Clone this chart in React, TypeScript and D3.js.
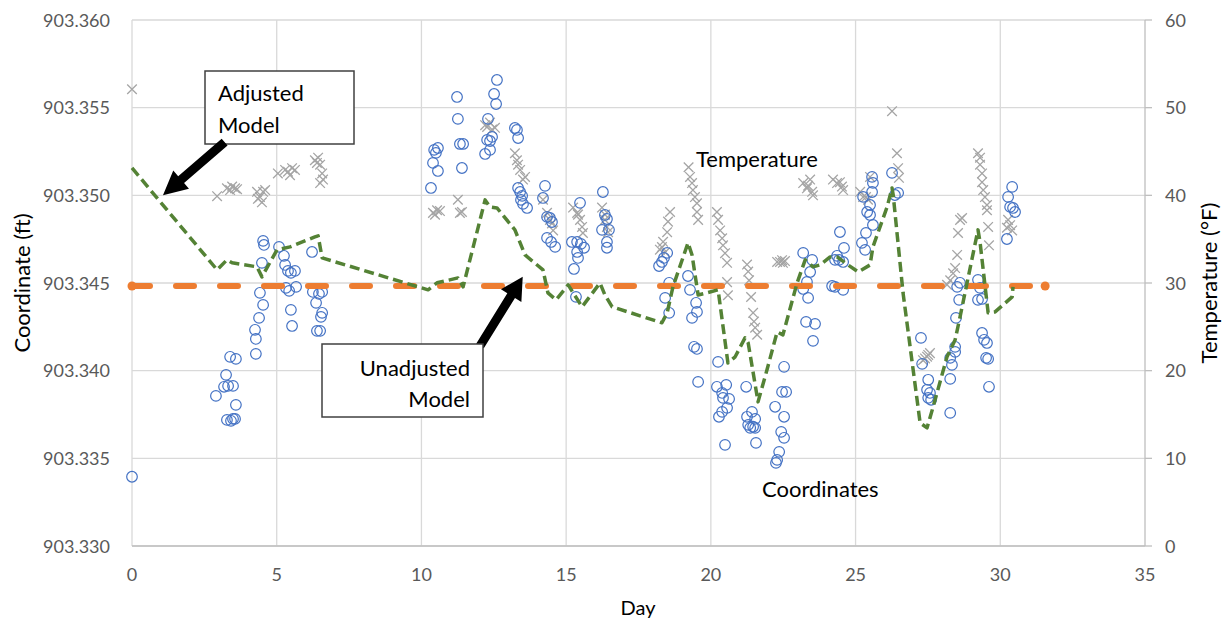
import * as d3 from "d3";

// Coordinates (ft), blue open circles: [day, ft]
const coordinatePoints: [number, number][] = [
  [0, 903.33395],
  [2.9, 903.33856], [3.25, 903.33976], [3.18, 903.33908], [3.32, 903.33913], [3.49, 903.33913], [3.39, 903.34079],
  [3.59, 903.34067], [3.59, 903.33805], [3.28, 903.33719], [3.49, 903.33725], [3.42, 903.33714], [3.56, 903.33725],
  [4.28, 903.34096], [4.28, 903.34181], [4.25, 903.34233], [4.39, 903.34301], [4.53, 903.34375], [4.42, 903.34444],
  [4.49, 903.34615], [4.56, 903.34717], [4.53, 903.3474],
  [5.08, 903.34706], [5.25, 903.34655], [5.29, 903.34603], [5.39, 903.34569], [5.49, 903.34558], [5.63, 903.34569],
  [5.67, 903.34478], [5.43, 903.34455], [5.49, 903.34347], [5.53, 903.34255], [5.32, 903.34472],
  [6.22, 903.34677], [6.25, 903.34449], [6.46, 903.34438], [6.57, 903.34449], [6.36, 903.34387], [6.57, 903.3433],
  [6.53, 903.34307], [6.39, 903.34227], [6.5, 903.34227],
  [10.33, 903.35042], [10.44, 903.35259], [10.57, 903.3527], [10.5, 903.35242], [10.4, 903.35185], [10.57, 903.35139],
  [11.23, 903.35561], [11.26, 903.35436], [11.33, 903.35293], [11.44, 903.35293], [11.4, 903.35156],
  [12.3, 903.35436], [12.27, 903.35316], [12.37, 903.3531], [12.44, 903.35333], [12.2, 903.35236], [12.37, 903.35259],
  [12.61, 903.35658], [12.51, 903.35578], [12.58, 903.35521],
  [13.23, 903.35384], [13.3, 903.35373], [13.34, 903.35327], [13.34, 903.35042], [13.41, 903.35019], [13.48, 903.34997],
  [13.44, 903.34974], [13.51, 903.34951], [13.65, 903.34928],
  [14.27, 903.35054], [14.2, 903.34985], [14.34, 903.34877], [14.44, 903.34871], [14.51, 903.34848], [14.34, 903.34757],
  [14.48, 903.34734], [14.62, 903.34706],
  [15.48, 903.34957], [15.2, 903.34734], [15.38, 903.34734], [15.51, 903.34723], [15.62, 903.34701], [15.38, 903.34677],
  [15.41, 903.34643], [15.27, 903.3458], [15.34, 903.34421],
  [16.27, 903.35019], [16.34, 903.34888], [16.41, 903.34865], [16.24, 903.34803], [16.48, 903.34803], [16.41, 903.34734],
  [16.41, 903.34701],
  [18.21, 903.34597], [18.31, 903.3462], [18.38, 903.34643], [18.49, 903.34672], [18.42, 903.34415], [18.56, 903.3433],
  [18.56, 903.34501],
  [19.21, 903.3454], [19.28, 903.34461], [19.49, 903.34387], [19.52, 903.34335], [19.35, 903.34301], [19.42, 903.34136],
  [19.52, 903.34124], [19.56, 903.33936],
  [20.25, 903.3405], [20.21, 903.33908], [20.39, 903.33873], [20.53, 903.33919], [20.42, 903.33845], [20.63, 903.33839],
  [20.56, 903.33788], [20.39, 903.33765], [20.28, 903.33737], [20.49, 903.33577],
  [21.22, 903.33908], [21.42, 903.33765], [21.25, 903.33737], [21.53, 903.33725], [21.29, 903.33691], [21.46, 903.3368],
  [21.36, 903.33674], [21.53, 903.33674], [21.56, 903.33588],
  [22.22, 903.33794], [22.53, 903.33737], [22.43, 903.33651], [22.53, 903.33617], [22.36, 903.33537], [22.29, 903.33491],
  [22.25, 903.33474], [22.53, 903.34022], [22.46, 903.33879], [22.6, 903.33879],
  [23.19, 903.34672], [23.5, 903.34632], [23.43, 903.34563], [23.32, 903.34506], [23.19, 903.34466], [23.36, 903.34415],
  [23.29, 903.34278], [23.6, 903.34267], [23.53, 903.3417],
  [24.46, 903.34791], [24.6, 903.347], [24.36, 903.34655], [24.29, 903.34632], [24.43, 903.34632], [24.57, 903.3462],
  [24.19, 903.34483], [24.29, 903.34478], [24.57, 903.34461],
  [25.22, 903.34729], [25.33, 903.34689], [25.36, 903.34786], [25.4, 903.34905], [25.5, 903.34888], [25.6, 903.34831],
  [25.5, 903.34945], [25.57, 903.35019], [25.6, 903.35071], [25.57, 903.35105], [25.26, 903.34991],
  [26.26, 903.35128], [26.36, 903.35002], [26.47, 903.35014],
  [27.26, 903.34187], [27.3, 903.34039], [27.51, 903.33948], [27.47, 903.33891], [27.57, 903.33873], [27.51, 903.33845],
  [27.61, 903.33834],
  [28.27, 903.33759], [28.27, 903.33953], [28.33, 903.34033], [28.27, 903.34073], [28.44, 903.34107], [28.44, 903.34136],
  [28.47, 903.34301], [28.58, 903.34404], [28.61, 903.34501], [28.51, 903.34478],
  [29.23, 903.34518], [29.3, 903.34472], [29.23, 903.34404], [29.37, 903.34409], [29.37, 903.34215], [29.44, 903.34176],
  [29.54, 903.34158], [29.51, 903.34073], [29.58, 903.34067], [29.61, 903.33908],
  [30.41, 903.35048], [30.27, 903.34991], [30.34, 903.34934], [30.44, 903.34928], [30.51, 903.34905], [30.23, 903.34751],
];

// Temperature (°F), grey crosses: [day, °F]
const temperaturePoints: [number, number][] = [
  [0, 52.1],
  [2.94, 39.9], [3.28, 40.8], [3.46, 41.0], [3.56, 40.8], [3.63, 40.7], [3.39, 40.6],
  [4.32, 40.4], [4.42, 39.8], [4.49, 39.2], [4.53, 40.4], [4.6, 40.6], [4.35, 39.6],
  [5.04, 42.5], [5.29, 42.9], [5.39, 42.7], [5.53, 43.1], [5.63, 42.9], [5.46, 42.3],
  [6.32, 44.0], [6.39, 43.7], [6.43, 44.3], [6.57, 42.5], [6.6, 41.8], [6.5, 41.4], [6.5, 43.5],
  [10.4, 38.0], [10.54, 38.3], [10.47, 37.8], [10.64, 38.2], [11.26, 39.5], [11.33, 38.0], [11.4, 38.1],
  [12.27, 47.8], [12.44, 47.5], [12.54, 47.7], [12.37, 48.3], [12.2, 48.0],
  [13.23, 44.8], [13.3, 44.0], [13.34, 43.5], [13.51, 41.8], [13.58, 42.1], [13.41, 42.9],
  [14.2, 39.5], [14.34, 38.0], [14.44, 37.2], [14.55, 36.0], [14.51, 36.8],
  [15.24, 38.6], [15.38, 38.0], [15.48, 37.2], [15.55, 36.4], [15.58, 35.7], [15.41, 37.8],
  [16.24, 38.6], [16.34, 37.2], [16.41, 36.4], [16.45, 35.8], [16.34, 37.8],
  [18.24, 33.8], [18.31, 34.1], [18.35, 34.7], [18.49, 35.8], [18.52, 37.0], [18.59, 38.1], [18.42, 33.5],
  [19.23, 43.2], [19.28, 42.1], [19.35, 41.4], [19.38, 40.6], [19.45, 39.8], [19.52, 39.1], [19.52, 38.1], [19.56, 37.2],
  [20.21, 38.1], [20.25, 37.2], [20.32, 36.0], [20.39, 35.1], [20.42, 34.3], [20.49, 33.4], [20.56, 32.3], [20.56, 30.1],
  [20.59, 28.6],
  [21.25, 32.1], [21.29, 31.3], [21.32, 30.3], [21.39, 28.4], [21.46, 26.6], [21.49, 25.6], [21.53, 24.9], [21.6, 24.1],
  [22.29, 32.4], [22.39, 32.4], [22.49, 32.3], [22.46, 32.6], [22.56, 32.5],
  [23.19, 41.4], [23.32, 40.8], [23.43, 41.8], [23.5, 40.4], [23.53, 40.0], [23.36, 41.1],
  [24.22, 41.8], [24.36, 41.4], [24.46, 41.5], [24.53, 41.0], [24.57, 40.6],
  [25.16, 40.4], [25.26, 39.8], [25.36, 39.8], [25.43, 39.5], [25.5, 42.1],
  [26.26, 49.6], [26.43, 44.8], [26.47, 43.1], [26.5, 42.0],
  [27.33, 21.2], [27.47, 21.6], [27.51, 21.8], [27.57, 22.0], [27.4, 21.4],
  [28.27, 30.3], [28.37, 31.1], [28.44, 31.7], [28.51, 33.2], [28.54, 35.7], [28.61, 37.2], [28.68, 37.4], [28.16, 29.8],
  [29.23, 44.8], [29.3, 44.3], [29.3, 43.5], [29.37, 42.5], [29.37, 41.5], [29.41, 40.6], [29.47, 39.8], [29.54, 38.9],
  [29.54, 38.3], [29.58, 36.4], [29.61, 34.3],
  [30.23, 36.3], [30.34, 36.6], [30.41, 36.0], [30.27, 37.2],
];

// Adjusted model (ft), green dashed line
const adjustedModel: [number, number][] = [
  [0, 903.35156], [2.94, 903.34575], [3.28, 903.34632], [3.46, 903.34615], [4.32, 903.34592], [4.49, 903.34535],
  [5.01, 903.34689], [5.46, 903.34706], [6.32, 903.34763], [6.43, 903.34769], [6.57, 903.34643], [10.23, 903.34461],
  [10.54, 903.34501], [11.26, 903.34529], [11.44, 903.34478], [12.2, 903.34974], [12.37, 903.34934], [12.61, 903.34928],
  [13.23, 903.34803], [13.58, 903.3466], [14.2, 903.34575], [14.37, 903.34444], [14.65, 903.34404], [15.07, 903.34489],
  [15.55, 903.34364], [16.17, 903.345], [16.34, 903.34432], [16.59, 903.34364], [18.31, 903.34273], [18.49, 903.3433],
  [18.69, 903.34478], [19.21, 903.34729], [19.35, 903.3466], [19.56, 903.34432], [19.87, 903.34444], [20.25, 903.34461],
  [20.59, 903.34044], [20.84, 903.34079], [21.18, 903.34187], [21.29, 903.34158], [21.63, 903.33822], [21.94, 903.34005],
  [22.29, 903.34221], [22.49, 903.34204], [22.98, 903.34501], [23.26, 903.34632], [23.53, 903.34592], [23.77, 903.34603],
  [24.12, 903.34649], [24.36, 903.34649], [24.74, 903.34603], [25.09, 903.34563], [25.5, 903.34603], [25.6, 903.34706],
  [26.09, 903.34934], [26.26, 903.35042], [26.3, 903.35002], [26.64, 903.34444], [27.23, 903.33702], [27.47, 903.33674],
  [27.68, 903.33794], [28.16, 903.34079], [28.44, 903.34176], [28.61, 903.34307], [29.23, 903.34803], [29.3, 903.34734],
  [29.58, 903.3433], [29.82, 903.34335], [30.41, 903.34421], [30.44, 903.34478],
];

// Unadjusted model (ft), orange dashed line
const unadjustedModel: [number, number][] = [
  [0, 903.34483],
  [31.55, 903.34483],
];

const dayTicks = [0, 5, 10, 15, 20, 25, 30, 35];
const coordTicks = ["903.330", "903.335", "903.340", "903.345", "903.350", "903.355", "903.360"];
const tempTicks = [0, 10, 20, 30, 40, 50, 60];

const W = 1231;
const H = 622;
const left = 132;
const right = 1145;
const top = 20;
const bottom = 546;
const font = "Lato, 'Open Sans', sans-serif";

function arrow(x1: number, y1: number, x2: number, y2: number, shaft: number, headW: number, headL: number) {
  const len = Math.hypot(x2 - x1, y2 - y1);
  const ux = (x2 - x1) / len;
  const uy = (y2 - y1) / len;
  const nx = -uy;
  const ny = ux;
  const bx = x2 - ux * headL;
  const by = y2 - uy * headL;
  const p = [
    [x1 + (nx * shaft) / 2, y1 + (ny * shaft) / 2],
    [bx + (nx * shaft) / 2, by + (ny * shaft) / 2],
    [bx + (nx * headW) / 2, by + (ny * headW) / 2],
    [x2, y2],
    [bx - (nx * headW) / 2, by - (ny * headW) / 2],
    [bx - (nx * shaft) / 2, by - (ny * shaft) / 2],
    [x1 - (nx * shaft) / 2, y1 - (ny * shaft) / 2],
  ];
  return p.map((d) => d.join(",")).join(" ");
}

export default function App() {
  const x = d3.scaleLinear().domain([0, 35]).range([left, right]);
  const yL = d3.scaleLinear().domain([903.33, 903.36]).range([bottom, top]);
  const yR = d3.scaleLinear().domain([0, 60]).range([bottom, top]);

  const line = d3
    .line<[number, number]>()
    .x((d) => x(d[0]))
    .y((d) => yL(d[1]));

  const grid = "#d9d9d9";
  const tickColor = "#595959";

  // annotation arrow tips, in data space
  const adjTip: [number, number] = [1.07, 903.35];
  const adjBase: [number, number] = [3.2, 903.35304];
  const unTip: [number, number] = [13.5, 903.34535];

  return (
    <svg width={W} height={H} style={{ position: "absolute", left: 0, top: 0, background: "#fff" }} fontFamily={font}>
      {/* grid */}
      {coordTicks.map((t) => (
        <line key={"h" + t} x1={left} x2={right} y1={yL(+t)} y2={yL(+t)} stroke={grid} strokeWidth={1.3} />
      ))}
      {dayTicks.slice(0, -1).map((t) => (
        <line key={"v" + t} x1={x(t)} x2={x(t)} y1={top} y2={bottom} stroke={grid} strokeWidth={1.3} />
      ))}
      <line x1={left} x2={right} y1={bottom} y2={bottom} stroke="#bfbfbf" strokeWidth={1.3} />
      <line x1={right} x2={right} y1={top} y2={bottom} stroke="#bfbfbf" strokeWidth={1.3} />
      {tempTicks.map((t) => (
        <line key={"rt" + t} x1={right} x2={right + 7} y1={yR(t)} y2={yR(t)} stroke="#bfbfbf" strokeWidth={1.3} />
      ))}

      {/* tick labels */}
      {coordTicks.map((t) => (
        <text key={"lt" + t} x={110} y={yL(+t) + 6.5} textAnchor="end" fontSize={18} fill={tickColor}>
          {t}
        </text>
      ))}
      {tempTicks.map((t) => (
        <text key={"rl" + t} x={1165} y={yR(t) + 6.5} fontSize={18} fill={tickColor}>
          {t}
        </text>
      ))}
      {dayTicks.map((t) => (
        <text key={"xl" + t} x={x(t)} y={581} textAnchor="middle" fontSize={18} fill={tickColor}>
          {t}
        </text>
      ))}

      {/* axis titles */}
      <text x={638} y={615} textAnchor="middle" fontSize={20} fill="#000">
        Day
      </text>
      <text transform={`translate(30,${(top + bottom) / 2}) rotate(-90)`} textAnchor="middle" fontSize={22} fill="#000">
        Coordinate (ft)
      </text>
      <text transform={`translate(1217,${(top + bottom) / 2}) rotate(-90)`} textAnchor="middle" fontSize={22} fill="#000">
        Temperature (°F)
      </text>

      {/* temperature crosses */}
      {temperaturePoints.map((d, i) => {
        const cx = x(d[0]);
        const cy = yR(d[1]);
        const s = 4.8;
        return (
          <path
            key={"t" + i}
            d={`M${cx - s},${cy - s}L${cx + s},${cy + s}M${cx - s},${cy + s}L${cx + s},${cy - s}`}
            stroke="#a5a5a5"
            strokeWidth={1.3}
            fill="none"
          />
        );
      })}

      {/* coordinate circles */}
      {coordinatePoints.map((d, i) => (
        <circle key={"c" + i} cx={x(d[0])} cy={yL(d[1])} r={5.3} fill="none" stroke="#4472c4" strokeWidth={1.2} />
      ))}

      {/* unadjusted model */}
      <path
        d={line(unadjustedModel) || ""}
        fill="none"
        stroke="#ed7d31"
        strokeWidth={6}
        strokeDasharray="18 26"
        strokeLinecap="round"
      />
      {unadjustedModel.map((d, i) => (
        <circle key={"u" + i} cx={x(d[0])} cy={yL(d[1])} r={4.5} fill="#ed7d31" />
      ))}

      {/* adjusted model */}
      <path
        d={line(adjustedModel) || ""}
        fill="none"
        stroke="#548235"
        strokeWidth={3.5}
        strokeDasharray="10 5"
        strokeLinejoin="round"
      />

      {/* annotations */}
      <rect x={205} y={71} width={149} height={73} fill="#fff" stroke="#404040" strokeWidth={1.5} />
      <text x={218} y={101} fontSize={22} fill="#000">
        Adjusted
      </text>
      <text x={218} y={133} fontSize={22} fill="#000">
        Model
      </text>
      <polygon points={arrow(x(adjBase[0]), yL(adjBase[1]), x(adjTip[0]), yL(adjTip[1]), 9, 24, 24)} fill="#000" />

      <polygon points={arrow(480, 346, x(unTip[0]), yL(unTip[1]), 9, 24, 22)} fill="#000" />
      <rect x={322} y={344} width={161} height={73} fill="#fff" stroke="#404040" strokeWidth={1.5} />
      <text x={470} y={376} textAnchor="end" fontSize={22} fill="#000">
        Unadjusted
      </text>
      <text x={470} y={407} textAnchor="end" fontSize={22} fill="#000">
        Model
      </text>

      <text x={696} y={167} fontSize={22} fill="#000">
        Temperature
      </text>
      <text x={762} y={497} fontSize={22} fill="#000">
        Coordinates
      </text>
    </svg>
  );
}
